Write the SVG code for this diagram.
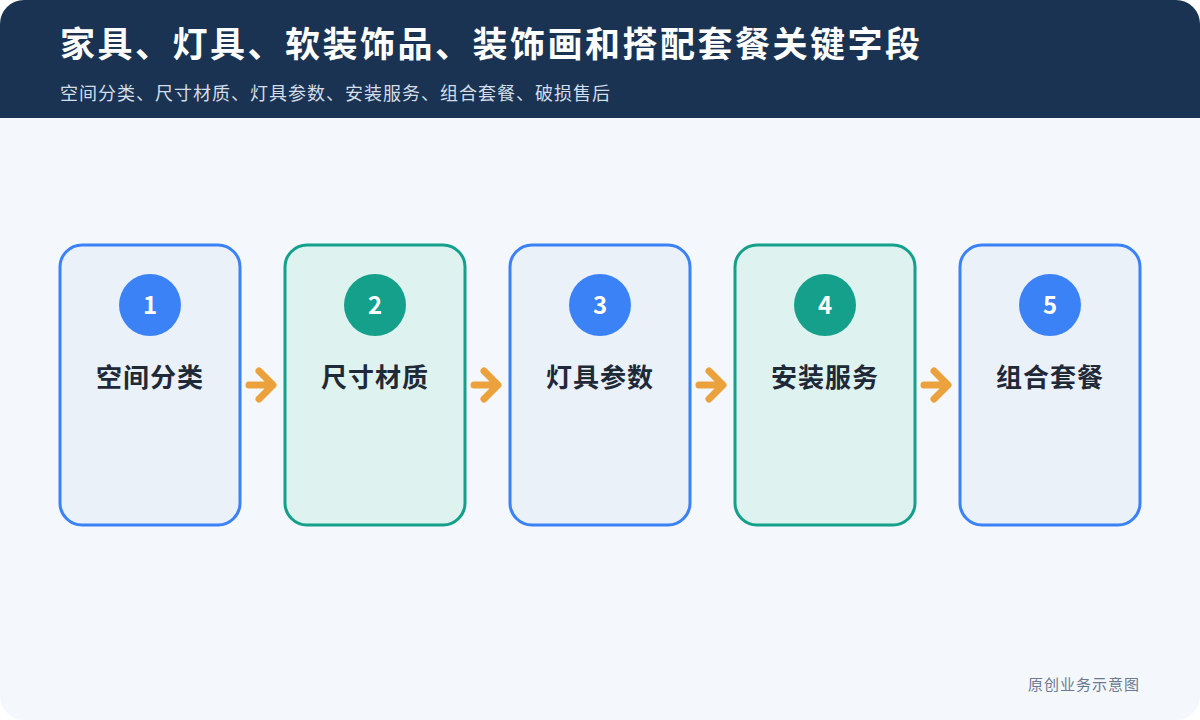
<svg xmlns="http://www.w3.org/2000/svg" width="1200" height="720" viewBox="0 0 1200 720">
<defs>
<style>
text{font-family:"Noto Sans CJK SC","Noto Sans",sans-serif}
.b{stroke-width:3}
.blue{fill:#eaf1f9;stroke:#3b82f6}
.teal{fill:#def3ef;stroke:#14a08a}
.num{fill:#fff;font-size:24px;font-weight:700;text-anchor:middle}
.lbl{fill:#1f2937;font-size:26px;font-weight:700;text-anchor:middle;letter-spacing:1px}
.arr{fill:none;stroke:#eba23c;stroke-width:7;stroke-linecap:round;stroke-linejoin:round}
</style>
<clipPath id="c"><rect width="1200" height="720" rx="24"/></clipPath>
</defs>
<g clip-path="url(#c)">
<rect width="1200" height="720" fill="#f4f8fc"/>
<rect width="1200" height="118" fill="#1a3352"/>
</g>
<text x="60" y="57" fill="#fff" font-size="35" font-weight="700" letter-spacing="2.5">家具、灯具、软装饰品、装饰画和搭配套餐关键字段</text>
<text x="60" y="100" fill="#d3deea" font-size="18" letter-spacing="1">空间分类、尺寸材质、灯具参数、安装服务、组合套餐、破损售后</text>
<g id="n1"><rect class="b blue" x="60" y="245" width="180" height="280" rx="22"/><circle cx="150" cy="305" r="31" fill="#3b82f6"/><text class="num" x="150" y="314">1</text><text class="lbl" x="150" y="387">空间分类</text></g>
<g id="n2"><rect class="b teal" x="285" y="245" width="180" height="280" rx="22"/><circle cx="375" cy="305" r="31" fill="#14a08a"/><text class="num" x="375" y="314">2</text><text class="lbl" x="375" y="387">尺寸材质</text></g>
<g id="n3"><rect class="b blue" x="510" y="245" width="180" height="280" rx="22"/><circle cx="600" cy="305" r="31" fill="#3b82f6"/><text class="num" x="600" y="314">3</text><text class="lbl" x="600" y="387">灯具参数</text></g>
<g id="n4"><rect class="b teal" x="735" y="245" width="180" height="280" rx="22"/><circle cx="825" cy="305" r="31" fill="#14a08a"/><text class="num" x="825" y="314">4</text><text class="lbl" x="825" y="387">安装服务</text></g>
<g id="n5"><rect class="b blue" x="960" y="245" width="180" height="280" rx="22"/><circle cx="1050" cy="305" r="31" fill="#3b82f6"/><text class="num" x="1050" y="314">5</text><text class="lbl" x="1050" y="387">组合套餐</text></g>
<g id="connectors">
<path class="arr" d="M249 385H272M259 371L273 385L259 399"/>
<path class="arr" d="M474 385H497M484 371L498 385L484 399"/>
<path class="arr" d="M699 385H722M709 371L723 385L709 399"/>
<path class="arr" d="M924 385H947M934 371L948 385L934 399"/>
</g>
<text x="1140" y="690" fill="#6b7a90" font-size="15" text-anchor="end" letter-spacing="1">原创业务示意图</text>
</svg>
